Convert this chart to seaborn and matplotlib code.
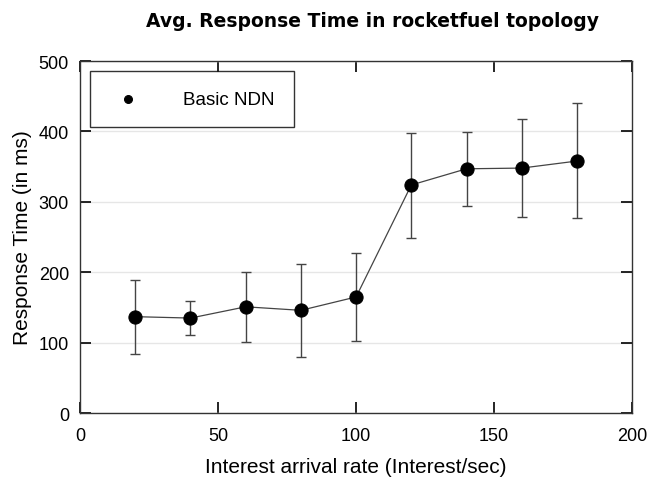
import seaborn as sns
import matplotlib.pyplot as plt
import pandas as pd
import numpy as np

rate = [20, 40, 60, 80, 100, 120, 140, 160, 180]
resp_time = [137, 135, 151, 146, 165, 324, 347, 348, 358]
err_low = [84, 111, 101, 80, 102, 249, 294, 278, 277]
err_high = [189, 159, 200, 212, 227, 398, 399, 418, 440]

df = pd.DataFrame({"rate": rate, "resp": resp_time})

sns.set_style("white")
plt.rcParams['font.family'] = ['Liberation Sans', 'DejaVu Sans']
plt.rcParams['text.color'] = 'black'
plt.rcParams['axes.labelcolor'] = 'black'

fig = plt.figure(figsize=(6.51, 4.81), dpi=100)
ax = fig.add_axes([0.123, 0.139, 0.848, 0.732])

ax.yaxis.grid(True, color="#e6e6e6", linewidth=1)
ax.set_axisbelow(True)

# error bars (asymmetric)
yerr = np.array([np.array(resp_time) - np.array(err_low),
                 np.array(err_high) - np.array(resp_time)])
ax.errorbar(rate, resp_time, yerr=yerr, fmt="none", ecolor="#444444",
            elinewidth=1, capsize=3.5, capthick=1, zorder=2)

# connecting line
sns.lineplot(data=df, x="rate", y="resp", color="#444444", linewidth=0.9,
             ax=ax, zorder=3)
# points
sns.scatterplot(data=df, x="rate", y="resp", color="black", s=90,
                edgecolor="black", label="Basic NDN", ax=ax, zorder=4)

ax.set_xlim(0, 200)
ax.set_ylim(0, 500)
ax.set_xticks([0, 50, 100, 150, 200])
ax.set_yticks([0, 100, 200, 300, 400, 500])
ax.tick_params(direction="in", length=8, width=1.2, top=True, right=True,
               bottom=True, left=True, labelsize=13, colors="black")
ax.tick_params(axis="x", pad=10)
ax.tick_params(axis="y", pad=8)
for s in ax.spines.values():
    s.set_color("#333333")
    s.set_linewidth(1)

ax.set_xlabel("Interest arrival rate (Interest/sec)", fontsize=15, labelpad=9)
ax.set_ylabel("Response Time (in ms)", fontsize=15, labelpad=5)
fig.suptitle("Avg. Response Time in rocketfuel topology", fontsize=13.5,
             fontweight="bold", family="DejaVu Sans", x=0.572, y=0.975)

leg = ax.legend(loc="upper left", fontsize=13.5, frameon=True, fancybox=False,
                borderpad=1.05, handletextpad=1.9, markerscale=0.6,
                borderaxespad=0, bbox_to_anchor=(0.018, 0.972))
leg.get_frame().set_edgecolor("black")
leg.get_frame().set_linewidth(1)

plt.savefig("out.png", dpi=100)
